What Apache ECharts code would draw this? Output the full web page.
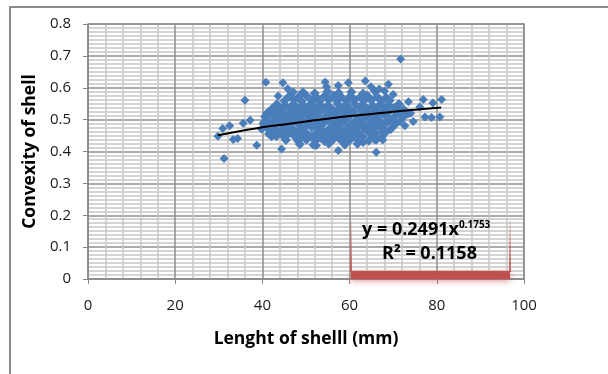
<!DOCTYPE html>
<html>
<head>
<meta charset="utf-8">
<script src="https://cdn.jsdelivr.net/npm/echarts@6/dist/echarts.min.js"></script>
<style>
  html, body { margin: 0; padding: 0; background: #fff; }
  #shellChart { width: 608px; height: 374px; }
</style>
</head>
<body>
<div id="shellChart"></div>
<script>
  // scattered shells on the left
  var leftTail = [
    [29.8, 0.448], [30.9, 0.472], [31.2, 0.378], [32.5, 0.481], [33.3, 0.438],
    [34.3, 0.441], [35.6, 0.489], [36.0, 0.561], [37.2, 0.498], [38.7, 0.420],
    [39.8, 0.470], [40.8, 0.617], [40.3, 0.492], [41.4, 0.455], [42.1, 0.446],
    [42.4, 0.533], [43.6, 0.574], [44.7, 0.616], [44.4, 0.408], [45.8, 0.597],
    [47.1, 0.587]
  ]
  // dense core of the sample
  var core = [
    [49.3, 0.586], [52.0, 0.583], [54.9, 0.588], [57.5, 0.584], [60.4, 0.587], [63.1, 0.582], [65.8, 0.589],
    [46.2, 0.574], [48.3, 0.571], [50.1, 0.575], [52.4, 0.570], [54.2, 0.573], [56.3, 0.576], [58.1, 0.571], [60.2, 0.574], [62.4, 0.570], [64.1, 0.575], [66.3, 0.572], [68.4, 0.569],
    [45.1, 0.559], [47.2, 0.562], [49.0, 0.558], [51.3, 0.561], [53.1, 0.557], [55.2, 0.562], [57.0, 0.560], [59.3, 0.558], [61.1, 0.563], [63.2, 0.559], [65.0, 0.561], [67.3, 0.557], [69.2, 0.560],
    [43.3, 0.548], [45.2, 0.545], [47.1, 0.549], [49.3, 0.546], [51.1, 0.550], [53.2, 0.547], [55.0, 0.545], [57.3, 0.549], [59.1, 0.546], [61.2, 0.550], [63.0, 0.547], [65.3, 0.544], [67.1, 0.548], [69.0, 0.546], [71.3, 0.549],
    [42.2, 0.534], [44.1, 0.537], [46.3, 0.533], [48.1, 0.536], [50.2, 0.534], [52.0, 0.538], [54.3, 0.535], [56.1, 0.532], [58.2, 0.536], [60.0, 0.534], [62.3, 0.537], [64.1, 0.533], [66.2, 0.536], [68.0, 0.534], [70.3, 0.537], [72.4, 0.532],
    [41.1, 0.521], [43.2, 0.524], [45.0, 0.520], [47.3, 0.523], [49.1, 0.521], [51.2, 0.525], [53.0, 0.522], [55.3, 0.519], [57.1, 0.523], [59.2, 0.521], [61.0, 0.524], [63.3, 0.520], [65.1, 0.523], [67.2, 0.521], [69.0, 0.525], [71.3, 0.522], [73.4, 0.519],
    [40.6, 0.509], [42.3, 0.512], [44.1, 0.508], [46.2, 0.511], [48.0, 0.509], [50.3, 0.513], [52.1, 0.510], [54.2, 0.507], [56.0, 0.511], [58.3, 0.509], [60.1, 0.512], [62.2, 0.508], [64.0, 0.511], [66.3, 0.509], [68.1, 0.512], [70.2, 0.508], [72.5, 0.511],
    [41.2, 0.496], [43.0, 0.499], [45.3, 0.495], [47.1, 0.498], [49.2, 0.497], [51.0, 0.500], [53.3, 0.496], [55.1, 0.499], [57.2, 0.495], [59.0, 0.498], [61.3, 0.496], [63.1, 0.500], [65.2, 0.497], [67.0, 0.494], [69.3, 0.498], [71.6, 0.496],
    [40.3, 0.486], [42.1, 0.483], [44.2, 0.487], [46.0, 0.484], [48.3, 0.486], [50.1, 0.482], [52.2, 0.485], [54.0, 0.488], [56.3, 0.484], [58.1, 0.486], [60.2, 0.483], [62.0, 0.487], [64.3, 0.485], [66.1, 0.482], [68.2, 0.486], [70.4, 0.484],
    [41.2, 0.473], [43.1, 0.470], [45.3, 0.474], [47.0, 0.471], [49.2, 0.473], [51.3, 0.476], [53.1, 0.472], [55.2, 0.470], [57.0, 0.474], [59.3, 0.471], [61.1, 0.473], [63.2, 0.475], [65.0, 0.471], [67.3, 0.473], [69.4, 0.470],
    [42.1, 0.459], [44.3, 0.462], [46.1, 0.458], [48.2, 0.461], [50.0, 0.460], [52.3, 0.457], [54.1, 0.461], [56.2, 0.459], [58.0, 0.462], [60.3, 0.458], [62.1, 0.460], [64.2, 0.463], [66.0, 0.459], [68.3, 0.461],
    [43.2, 0.448], [45.1, 0.445], [47.3, 0.449], [49.0, 0.446], [51.2, 0.447], [53.3, 0.444], [55.0, 0.448], [57.2, 0.446], [59.1, 0.449], [61.3, 0.445], [63.0, 0.447], [65.2, 0.450], [67.4, 0.446],
    [45.4, 0.436], [48.2, 0.433], [50.1, 0.437], [52.2, 0.434], [54.3, 0.432], [56.1, 0.436], [58.2, 0.433], [60.0, 0.435], [62.3, 0.438], [64.4, 0.434], [66.1, 0.437],
    [48.6, 0.423], [51.7, 0.421], [55.2, 0.425], [58.9, 0.422], [61.8, 0.424]
  ]
  // sparse shells on the right and outliers
  var rightTail = [
    [52.4, 0.419], [54.4, 0.618], [54.7, 0.603], [57.4, 0.607], [57.4, 0.403],
    [59.7, 0.616], [63.1, 0.428], [63.6, 0.621], [65.8, 0.436], [66.1, 0.398],
    [67.6, 0.436], [67.7, 0.462], [68.9, 0.611], [70.0, 0.579], [71.6, 0.530],
    [71.7, 0.690], [72.7, 0.481], [73.5, 0.556], [74.6, 0.494], [76.1, 0.540],
    [76.9, 0.563], [77.3, 0.508], [78.8, 0.507], [79.1, 0.552], [80.7, 0.508],
    [81.1, 0.563], [64.9, 0.603], [66.8, 0.596], [68.0, 0.590], [74.0, 0.520]
  ]
  // power trendline
  var trendLength = [29.8, 35, 40, 45, 50, 55, 60, 65, 70, 75, 81]
  var trendConvexity = [0.451, 0.464, 0.476, 0.485, 0.494, 0.503, 0.511, 0.518, 0.525, 0.531, 0.538]

  var chart = echarts.init(document.getElementById('shellChart'))
  var blue = '#4A7EBB'
  var red = '#C0504D'
  var fontName = '"Open Sans", "DejaVu Sans", sans-serif'
  var fade = function () {
    return new echarts.graphic.LinearGradient(0, 0, 0, 1, [
      { offset: 0, color: 'rgba(192,80,77,0.1)' }, { offset: 1, color: 'rgba(192,80,77,0.9)' }])
  }

  var option = {
    animation: false,
    backgroundColor: '#fff',
    grid: { left: 88, right: 84, top: 24, bottom: 95 },
    xAxis: {
      type: 'value', min: 0, max: 100, interval: 20,
      name: 'Lenght of shelll (mm)', nameLocation: 'middle', nameGap: 51,
      nameTextStyle: { fontFamily: fontName, fontWeight: 'bold', fontSize: 17.5, color: '#000' },
      axisLine: { show: true, onZero: false, lineStyle: { color: '#868686', width: 1.5 } },
      axisTick: { show: true, length: 5, lineStyle: { color: '#868686' } },
      axisLabel: { fontFamily: fontName, fontSize: 15, color: '#1a1a1a', margin: 19 },
      splitLine: { show: true, lineStyle: { color: '#8e8e8e', width: 1.5 } },
      minorTick: { show: false, splitNumber: 5 },
      minorSplitLine: { show: true, lineStyle: { color: '#c6c6c6', width: 1.5 } }
    },
    yAxis: {
      type: 'value', min: 0, max: 0.8, interval: 0.1,
      name: 'Convexity of shell', nameLocation: 'middle', nameGap: 47,
      nameTextStyle: { fontFamily: fontName, fontWeight: 'bold', fontSize: 17.5, color: '#000' },
      axisLine: { show: true, lineStyle: { color: '#868686', width: 1.5 } },
      axisTick: { show: true, length: 5, lineStyle: { color: '#868686' } },
      axisLabel: { fontFamily: fontName, fontSize: 15, color: '#1a1a1a', margin: 17 },
      splitLine: { show: true, lineStyle: { color: '#8e8e8e', width: 1.5 } },
      minorTick: { show: false, splitNumber: 8 },
      minorSplitLine: { show: true, lineStyle: { color: '#c6c6c6', width: 1.5 } }
    },
    graphic: [
      // outer chart border
      { type: 'polyline', silent: true, shape: { points: [[10, 380], [10, 7], [610, 7]] },
        style: { stroke: '#8a8a8a', lineWidth: 2, fill: null } },
      // plot area right/top border
      { type: 'polyline', silent: true, z: 1, shape: { points: [[88, 24], [524, 24], [524, 279]] },
        style: { stroke: '#8e8e8e', lineWidth: 1.5, fill: null } },
      // trendline label box
      { type: 'rect', silent: true, z: 50, shape: { x: 351, y: 271, width: 159, height: 8 },
        style: { fill: red, shadowBlur: 6, shadowColor: 'rgba(192,80,77,0.6)', shadowOffsetY: 2 } },
      { type: 'rect', silent: true, z: 50, shape: { x: 350, y: 220, width: 2, height: 52 }, style: { fill: fade() } },
      { type: 'rect', silent: true, z: 50, shape: { x: 509, y: 220, width: 2, height: 52 }, style: { fill: fade() } },
      { type: 'text', silent: true, z: 51, left: 362, top: 220,
        style: {
          text: '{m|y = 0.2491x}{s|0.1753}',
          rich: {
            m: { fontFamily: fontName, fontWeight: 'bold', fontSize: 18, fill: '#000', lineHeight: 22 },
            s: { fontFamily: fontName, fontWeight: 'bold', fontSize: 10, fill: '#000', lineHeight: 22, padding: [0, 0, 10, 0] }
          }
        } },
      { type: 'text', silent: true, z: 51, left: 382, top: 245,
        style: { text: 'R² = 0.1158', fontFamily: fontName, fontWeight: 'bold', fontSize: 18, fill: '#000' } }
    ],
    series: [
      { type: 'scatter', symbol: 'diamond', symbolSize: 9, data: leftTail, itemStyle: { color: blue, opacity: 1 } },
      { type: 'scatter', symbol: 'diamond', symbolSize: 10, data: core, itemStyle: { color: blue, opacity: 1 } },
      { type: 'scatter', symbol: 'diamond', symbolSize: 9, data: rightTail, itemStyle: { color: blue, opacity: 1 } },
      {
        type: 'line', smooth: true, showSymbol: false, z: 10,
        data: trendLength.map(function (x, i) { return [x, trendConvexity[i]] }),
        lineStyle: { color: '#000', width: 2 }
      }
    ]
  }
  chart.setOption(option)
</script>
</body>
</html>
